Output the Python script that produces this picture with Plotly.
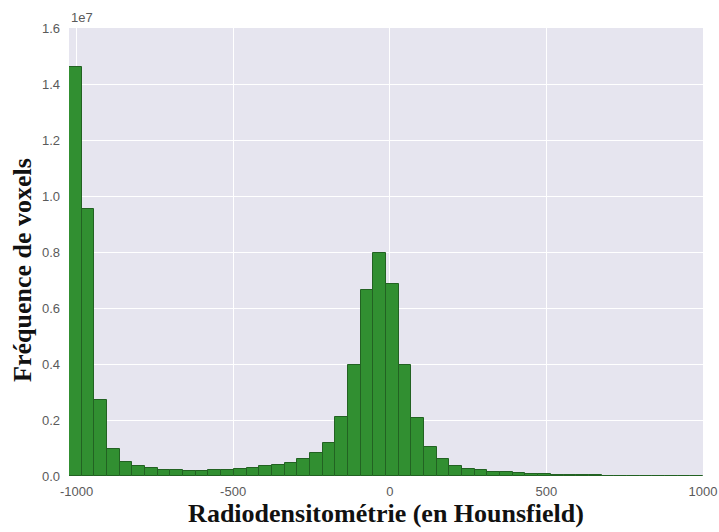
import numpy as np
import plotly.graph_objects as go

# Histogram definition (Hounsfield units)
hist_min = -1024
hist_max = 1000
n_bins = 50

# Voxel counts per bin (in voxels)
counts = [
    14620000, 9550000, 2720000, 970000, 500000, 350000, 270000, 230000, 200000, 190000,
    190000, 200000, 220000, 250000, 290000, 340000, 390000, 480000, 610000, 810000,
    1180000, 2110000, 3980000, 6650000, 7960000, 6840000, 3980000, 2080000, 1050000, 600000,
    370000, 260000, 210000, 160000, 130000, 100000, 80000, 60000, 40000, 30000,
    25000, 20000, 15000, 12000, 10000, 8000, 6000, 3000, 2000, 1000,
]

x_ticks = [-1000, -500, 0, 500, 1000]
x_tick_labels = ["-1000", "-500", "0", "500", "1000"]
y_ticks = [0, 2e6, 4e6, 6e6, 8e6, 1e7, 1.2e7, 1.4e7, 1.6e7]
y_tick_labels = ["0.0", "0.2", "0.4", "0.6", "0.8", "1.0", "1.2", "1.4", "1.6"]

edges = np.linspace(hist_min, hist_max, n_bins + 1)
centers = (edges[:-1] + edges[1:]) / 2
widths = edges[1:] - edges[:-1]

fig = go.Figure()
fig.add_trace(go.Bar(
    x=centers, y=counts, width=widths,
    marker=dict(color="rgb(49,143,49)", line=dict(color="rgb(34,98,34)", width=1)),
    hoverinfo="x+y",
))

tick_font = dict(family="Liberation Sans, Arial, sans-serif", size=13, color="#5a5a5a")
title_font = dict(family="Liberation Serif, Times New Roman, serif", size=26, color="#111111")

fig.update_layout(
    width=719, height=532,
    margin=dict(l=69, r=16, t=28, b=56),
    paper_bgcolor="white",
    plot_bgcolor="#E6E5EF",
    bargap=0,
    showlegend=False,
    xaxis=dict(
        range=[hist_min, hist_max],
        tickvals=x_ticks, ticktext=x_tick_labels,
        showgrid=True, gridcolor="white", gridwidth=1.3,
        zeroline=False, showline=False, ticks="",
        tickfont=tick_font, ticklabelstandoff=6, automargin=False,
        title=dict(text="<b>Radiodensitométrie (en Hounsfield)</b>", font=title_font, standoff=3),
    ),
    yaxis=dict(
        range=[0, 1.6e7],
        tickvals=y_ticks, ticktext=y_tick_labels,
        showgrid=True, gridcolor="white", gridwidth=1.3,
        zeroline=False, showline=False, ticks="",
        tickfont=tick_font, ticklabelstandoff=8, automargin=False,
    ),
    annotations=[
        dict(
            text="1e7", xref="paper", yref="paper", x=0, y=1, xanchor="left", yanchor="bottom",
            showarrow=False, font=tick_font, yshift=1,
        ),
        dict(
            text="<b>Fréquence de voxels</b>", xref="paper", yref="paper",
            x=-0.0726, y=0.46, xanchor="center", yanchor="middle", textangle=-90,
            showarrow=False, font=title_font,
        ),
    ],
)

fig.write_html("out.html")
